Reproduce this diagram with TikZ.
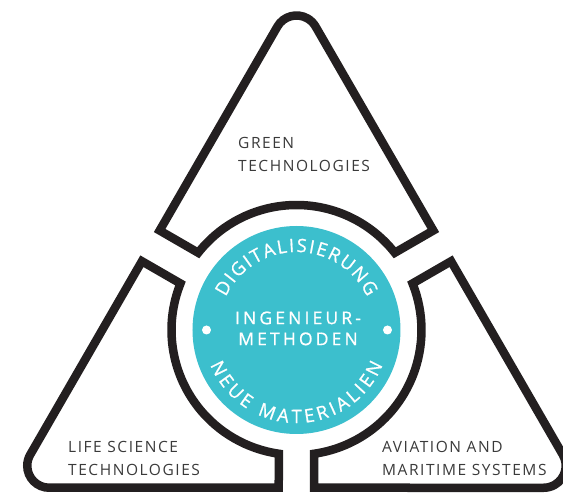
\documentclass[tikz,border=0pt]{standalone}
\usepackage{fontspec}
\setmainfont{Open Sans}
\newfontfamily\sidefont[LetterSpace=10]{Open Sans}
\newfontfamily\corefont[LetterSpace=18, FakeBold=0.8]{Open Sans}
\newfontfamily\arcfont[FakeBold=0.8]{Open Sans}
\usetikzlibrary{calc,decorations.text}

\definecolor{ringblack}{HTML}{231F20}
\definecolor{coreteal}{HTML}{3CBFCD}
\definecolor{labelgray}{HTML}{3A3A3A}

\tikzset{
	piece/.style={draw=ringblack, line width=8.5pt, line join=miter},
	sidelabel/.style={anchor=north west, inner sep=0pt, align=left, text=labelgray,
		font=\sidefont\fontsize{15.5}{23}\selectfont},
	corelabel/.style={inner sep=0pt, align=center, text=white,
		font=\corefont\fontsize{17.5}{21}\selectfont},
	arctext/.style={decorate, decoration={text along path, text color=white,
		text align=fit to path, text={|\arcfont\fontsize{18.5}{20}\selectfont|#1}}}
}

\begin{document}
\begin{tikzpicture}[x=1pt, y=1pt]
			\useasboundingbox (-296.5, -165) rectangle (266.5, 330);
			\coordinate (O) at (0, 0);
			\coordinate (top) at (0, 336.5);
			\coordinate (left) at (-285.35, -157.75);
			\coordinate (right) at (285.35, -157.75);

			% the three pieces
			\draw[piece] (38.16:125) arc[start angle=38.16, end angle=141.84, radius=125]
			-- ($(150:168.25)+(60:17.75)$) -- ($(top)!38.1pt!(left)$)
			arc[start angle=150, end angle=30, radius=22]
			-- ($(30:168.25)+(120:17.75)$) -- cycle;

			\draw[piece] (158.16:125) arc[start angle=158.16, end angle=261.84, radius=125]
			-- ($(270:157.75)+(180:17.75)$) -- ($(left)!38.1pt!(right)$)
			arc[start angle=270, end angle=150, radius=22]
			-- ($(150:168.25)+(240:17.75)$) -- cycle;

			\draw[piece] (278.16:125) arc[start angle=278.16, end angle=381.84, radius=125]
			-- ($(30:168.25)+(-60:17.75)$) -- ($(right)!38.1pt!(top)$)
			arc[start angle=30, end angle=-90, radius=22]
			-- ($(270:157.75)+(0:17.75)$) -- cycle;

			\node[sidelabel] (green) at (-58.5, 193) {GREEN\\TECHNOLOGIES};
			\node[sidelabel] (life) at (-228.5, -111) {LIFE SCIENCE\\TECHNOLOGIES};
			\node[sidelabel] (aviation) at (85.5, -111) {AVIATION AND\\MARITIME SYSTEMS};

			% core
			\fill[coreteal] (O) circle[radius=104];
			\fill[white] (180:90) circle[radius=4.5];
			\fill[white] (0:91) circle[radius=4.5];
			\node[corelabel] (methods) at (1.5, 1.6) {INGENIEUR-\\METHODEN};

			\path[arctext=DIGITALISIERUNG] (155:78) arc[start angle=155, end angle=25, radius=78];
			\path[arctext=NEUE MATERIALIEN] (202:93) arc[start angle=202, end angle=338, radius=93];

		\end{tikzpicture}
\end{document}
